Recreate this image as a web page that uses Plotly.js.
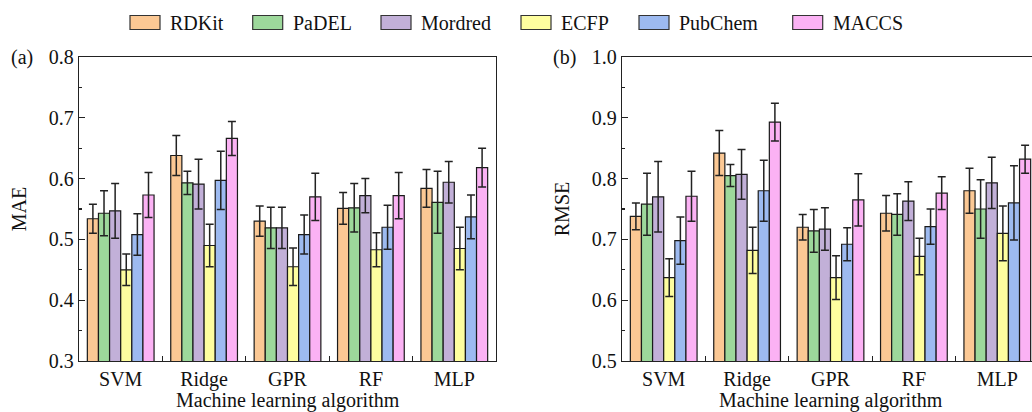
<!DOCTYPE html>
<html>
<head>
<meta charset="utf-8">
<script src="https://cdn.plot.ly/plotly-3.0.1.min.js"></script>
<style>
html,body{margin:0;padding:0;overflow:hidden;background:#fff;}
#chart{width:1045px;height:412px;}
</style>
</head>
<body>
<div id="chart"></div>
<script>
const algorithms = ["SVM", "Ridge", "GPR", "RF", "MLP"];
const featureSets = ["RDKit", "PaDEL", "Mordred", "ECFP", "PubChem", "MACCS"];
const colors = ["#FBC894", "#9DD89B", "#C2B0D8", "#FEFE9F", "#9DBAF0", "#FBB2F4"];

// MAE (panel a): values per feature set across algorithms
const maeRDKit   = [0.534, 0.638, 0.530, 0.551, 0.584];
const maePaDEL   = [0.543, 0.593, 0.519, 0.552, 0.561];
const maeMordred = [0.547, 0.591, 0.519, 0.572, 0.594];
const maeECFP    = [0.450, 0.490, 0.455, 0.483, 0.485];
const maePubChem = [0.508, 0.597, 0.508, 0.520, 0.537];
const maeMACCS   = [0.573, 0.666, 0.570, 0.572, 0.618];

const maeErrRDKit   = [0.024, 0.033, 0.025, 0.026, 0.031];
const maeErrPaDEL   = [0.037, 0.019, 0.034, 0.040, 0.051];
const maeErrMordred = [0.045, 0.041, 0.034, 0.028, 0.034];
const maeErrECFP    = [0.026, 0.035, 0.031, 0.028, 0.035];
const maeErrPubChem = [0.034, 0.048, 0.032, 0.036, 0.036];
const maeErrMACCS   = [0.037, 0.028, 0.039, 0.038, 0.032];

// RMSE (panel b)
const rmseRDKit   = [0.738, 0.842, 0.720, 0.743, 0.780];
const rmsePaDEL   = [0.758, 0.805, 0.714, 0.741, 0.750];
const rmseMordred = [0.770, 0.807, 0.717, 0.763, 0.793];
const rmseECFP    = [0.637, 0.682, 0.637, 0.672, 0.710];
const rmsePubChem = [0.698, 0.780, 0.692, 0.721, 0.760];
const rmseMACCS   = [0.771, 0.893, 0.765, 0.776, 0.832];

const rmseErrRDKit   = [0.022, 0.037, 0.021, 0.029, 0.037];
const rmseErrPaDEL   = [0.051, 0.018, 0.035, 0.034, 0.048];
const rmseErrMordred = [0.058, 0.041, 0.035, 0.032, 0.042];
const rmseErrECFP    = [0.031, 0.038, 0.036, 0.030, 0.045];
const rmseErrPubChem = [0.039, 0.050, 0.027, 0.029, 0.061];
const rmseErrMACCS   = [0.041, 0.031, 0.043, 0.027, 0.023];

const maeVals = [maeRDKit, maePaDEL, maeMordred, maeECFP, maePubChem, maeMACCS];
const maeErrs = [maeErrRDKit, maeErrPaDEL, maeErrMordred, maeErrECFP, maeErrPubChem, maeErrMACCS];
const rmseVals = [rmseRDKit, rmsePaDEL, rmseMordred, rmseECFP, rmsePubChem, rmseMACCS];
const rmseErrs = [rmseErrRDKit, rmseErrPaDEL, rmseErrMordred, rmseErrECFP, rmseErrPubChem, rmseErrMACCS];

const xTitle = "Machine learning algorithm";

const FONT = "Liberation Serif";
const FS = 20;
const INK = "#111";

const traces = [];
featureSets.forEach((name, i) => {
  traces.push({
    type: "bar", name: name, x: algorithms, y: maeVals[i], showlegend: false,
    xaxis: "x", yaxis: "y", offsetgroup: String(i),
    marker: {color: colors[i], line: {color: "#1a1a1a", width: 1.2}},
    error_y: {type: "data", array: maeErrs[i], visible: true, color: "#222", thickness: 1.5, width: 4}
  });
});
featureSets.forEach((name, i) => {
  traces.push({
    type: "bar", name: name, x: algorithms, y: rmseVals[i], showlegend: false,
    xaxis: "x2", yaxis: "y2", offsetgroup: String(i),
    marker: {color: colors[i], line: {color: "#1a1a1a", width: 1.2}},
    error_y: {type: "data", array: rmseErrs[i], visible: true, color: "#222", thickness: 1.5, width: 4}
  });
});

// page geometry (pixels)
const W = 1045, H = 412;
const M = {l: 79, r: 6, t: 57, b: 51};
const plotW = W - M.l - M.r, plotH = H - M.t - M.b;
const px2x = p => (p - M.l) / plotW;
const px2y = p => (H - M.b - p) / plotH;

const dom1 = [0, px2x(496)];
const dom2 = [px2x(622), 1];

const xCommon = {
  type: "category", showline: true, linecolor: "#222", linewidth: 1.3, mirror: true,
  ticks: "inside", tickson: "boundaries", ticklen: 5, tickcolor: "#222", tickwidth: 1.2,
  showgrid: false, zeroline: false, tickfont: {family: FONT, size: FS, color: INK},
  automargin: false
};
const yCommon = {
  showline: true, linecolor: "#222", linewidth: 1.3, mirror: true,
  ticks: "inside", ticklen: 6, tickcolor: "#222", tickwidth: 1.2, dtick: 0.1,
  minor: {dtick: 0.05, ticks: "inside", ticklen: 3, tickcolor: "#222", tickwidth: 1.2, showgrid: false},
  showgrid: false, zeroline: false, tickfont: {family: FONT, size: FS, color: INK},
  automargin: false, tickformat: ".1f"
};

// custom legend: boxes + labels across the top
const legendBoxLeft = [130, 252.7, 381, 521, 639, 792.7];
const boxW = 30, boxTop = 15.5, boxBot = 29.5, textGap = 8, legendMid = 22.5;
const shapes = [];
const annotations = [];
featureSets.forEach((name, i) => {
  const l = legendBoxLeft[i];
  shapes.push({type: "rect", xref: "paper", yref: "paper",
    x0: px2x(l), x1: px2x(l + boxW), y0: px2y(boxBot), y1: px2y(boxTop),
    fillcolor: colors[i], line: {color: "#333", width: 1.2}});
  annotations.push({text: name, xref: "paper", yref: "paper",
    x: px2x(l + boxW + textGap), y: px2y(legendMid), xanchor: "left", yanchor: "middle",
    showarrow: false, font: {family: FONT, size: FS, color: INK}});
});
annotations.push({text: "(a)", xref: "paper", yref: "paper", x: px2x(9), y: 1.0,
  xanchor: "left", yanchor: "middle", showarrow: false, font: {family: FONT, size: FS, color: INK}});
annotations.push({text: "(b)", xref: "paper", yref: "paper", x: px2x(551), y: 1.0,
  xanchor: "left", yanchor: "middle", showarrow: false, font: {family: FONT, size: FS, color: INK}});
[dom1, dom2].forEach(d => {
  annotations.push({text: xTitle, xref: "paper", yref: "paper", x: (d[0] + d[1]) / 2, y: px2y(400),
    xanchor: "center", yanchor: "middle", showarrow: false, font: {family: FONT, size: FS, color: INK}});
});

const layout = {
  width: W, height: H,
  margin: M,
  paper_bgcolor: "#fff", plot_bgcolor: "#fff",
  barmode: "group", bargap: 0.2, bargroupgap: 0,
  font: {family: FONT, size: FS, color: INK},
  showlegend: false,
  xaxis: Object.assign({}, xCommon, {domain: dom1, anchor: "y"}),
  yaxis: Object.assign({}, yCommon, {range: [0.3, 0.8], anchor: "x",
    title: {text: "MAE", font: {family: FONT, size: FS, color: INK}, standoff: 16}}),
  xaxis2: Object.assign({}, xCommon, {domain: dom2, anchor: "y2"}),
  yaxis2: Object.assign({}, yCommon, {range: [0.5, 1.0], anchor: "x2",
    title: {text: "RMSE", font: {family: FONT, size: FS, color: INK}, standoff: 16}}),
  shapes: shapes,
  annotations: annotations
};

Plotly.newPlot("chart", traces, layout, {displayModeBar: false, staticPlot: true});
</script>
</body>
</html>
